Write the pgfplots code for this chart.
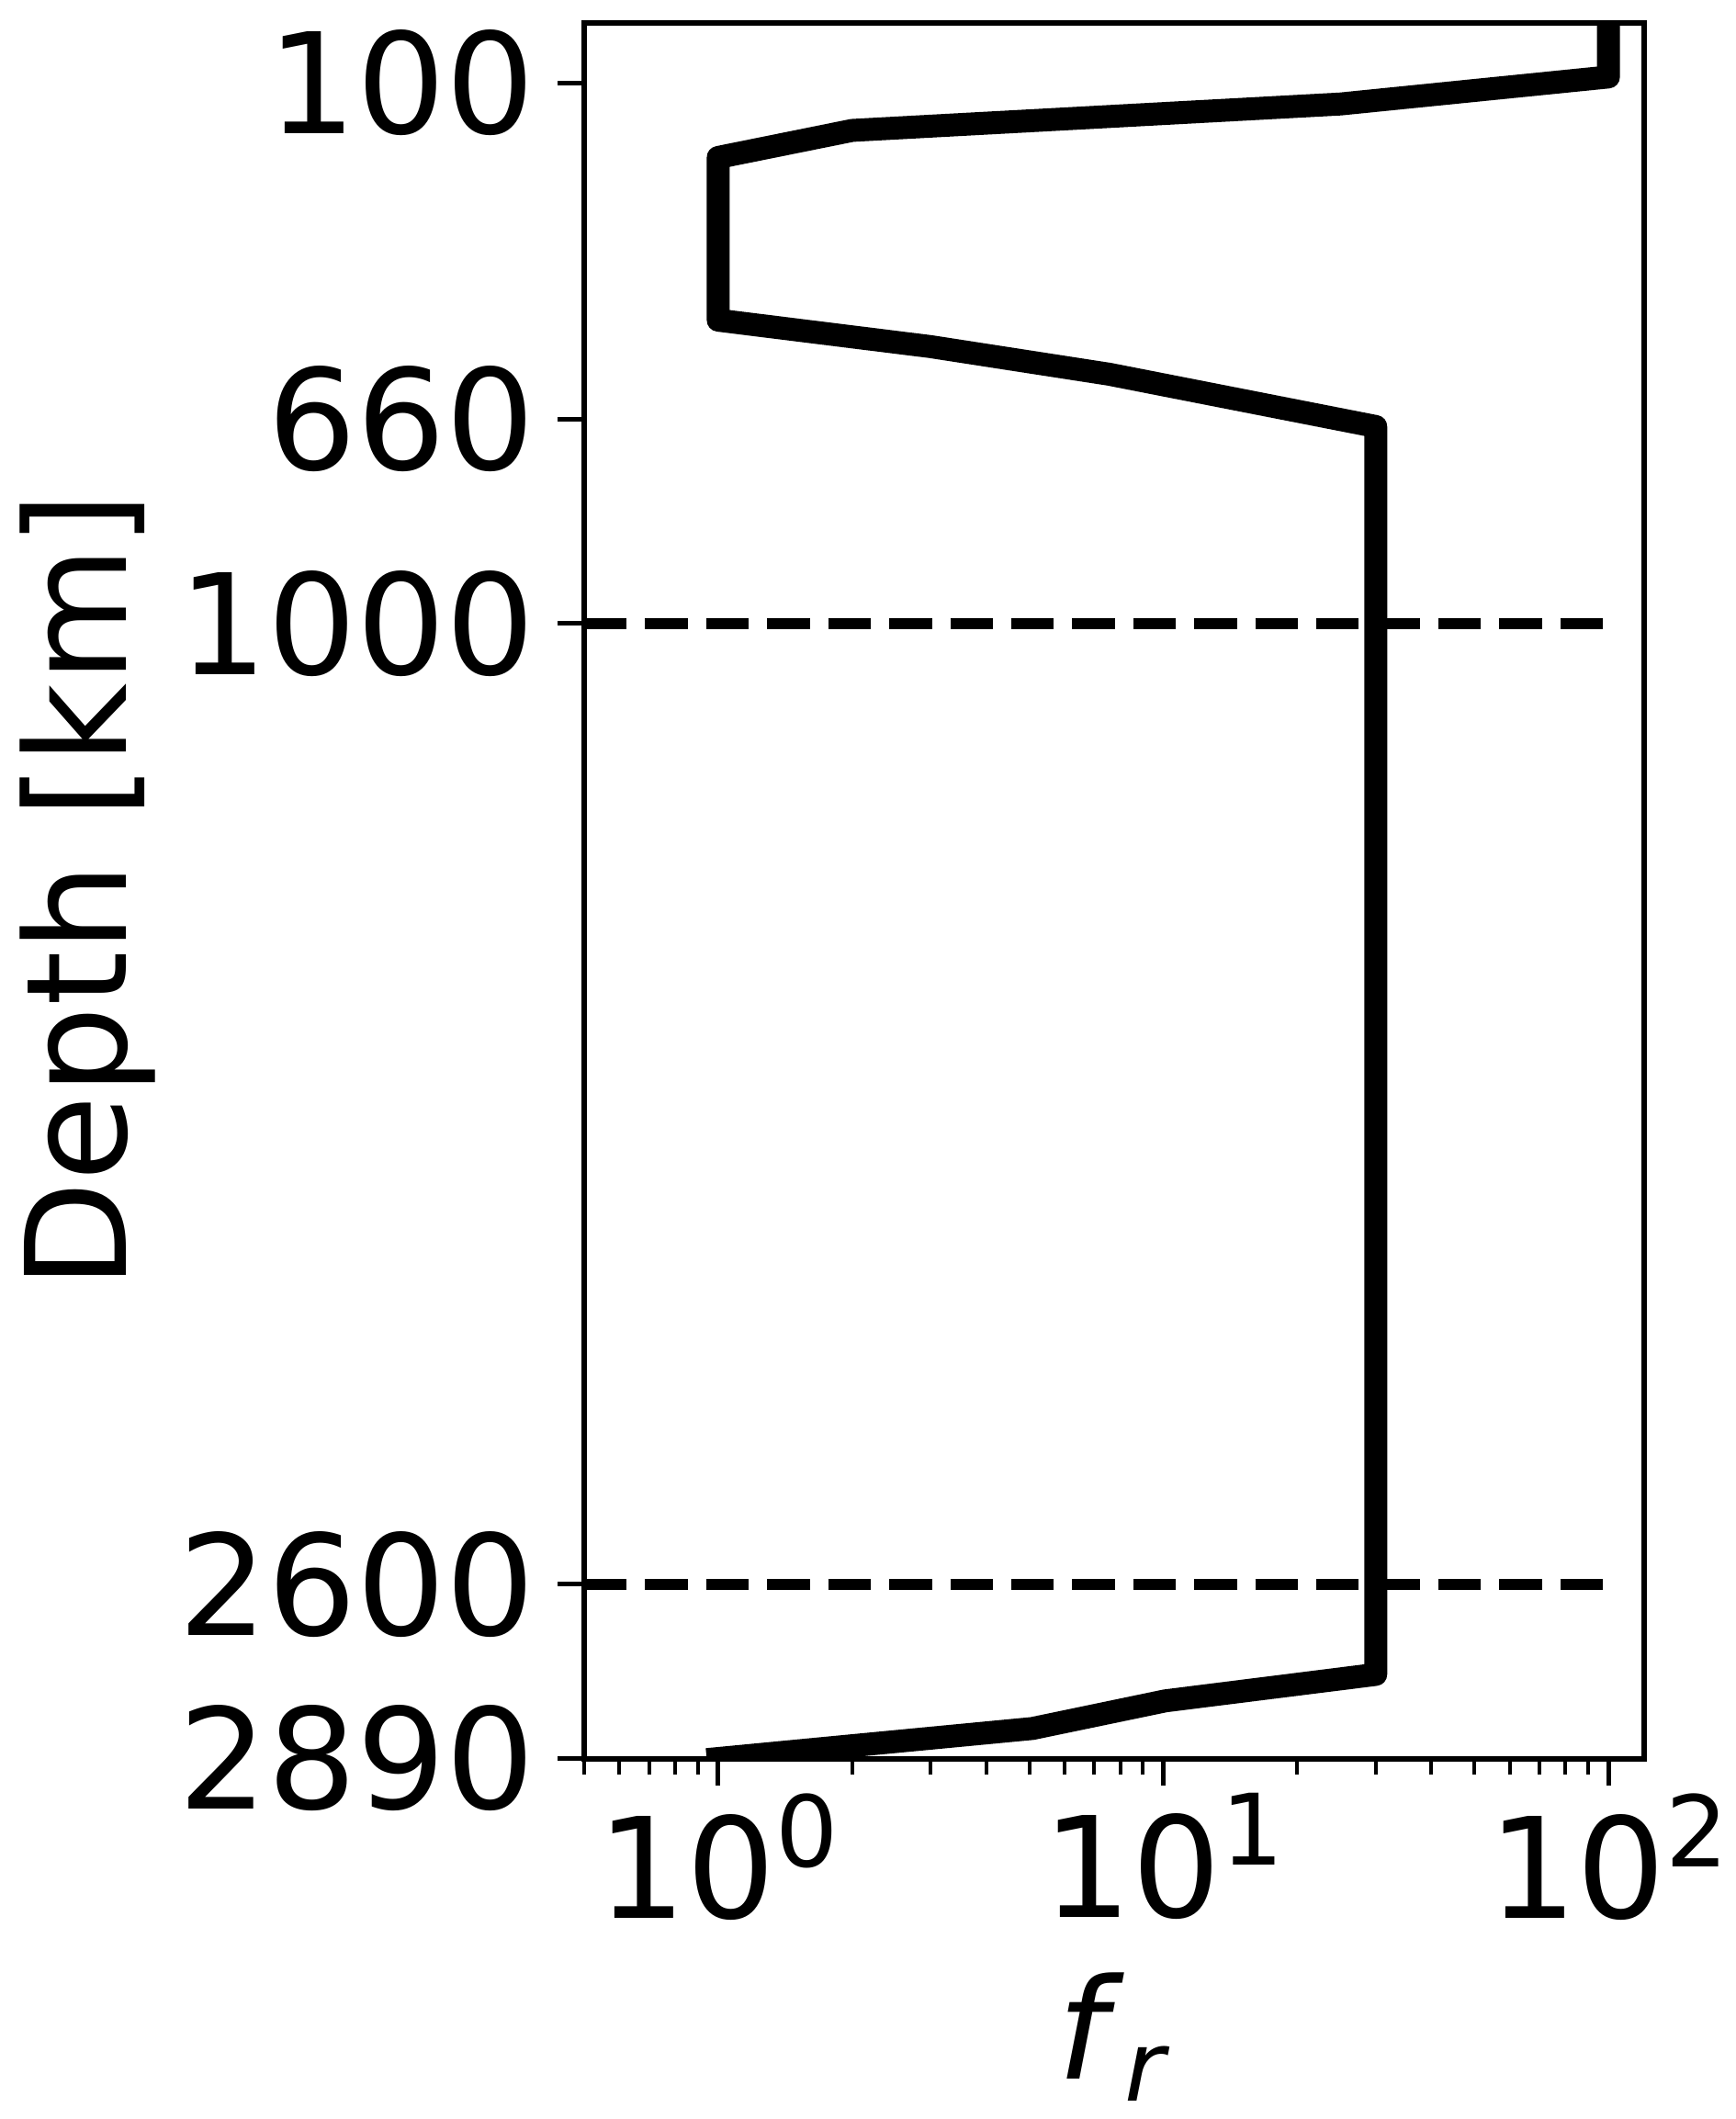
\documentclass[border=0pt]{standalone}
\usepackage{fontspec}
\setmainfont{DejaVu Sans}
\usepackage{pgfplots}
\pgfplotsset{compat=1.18}

% matplotlib-like mathtext exponent
\newcommand{\ex}[1]{\raisebox{0.37em}{\fontsize{21.5pt}{21.5pt}\selectfont #1}}
\newcommand{\bigfont}{\fontsize{30.5pt}{36pt}\selectfont}

\begin{document}
\begin{tikzpicture}
\begin{axis}[
  scale only axis,
  width=231pt, height=378.4pt,
  xmode=log, xmin=0.5, xmax=120,
  ymin=0, ymax=2890, y dir=reverse,
  xtick={1,10,100},
  xticklabels={10\ex{0},10\ex{1},10\ex{2}},
  minor xtick={0.5,0.6,0.7,0.8,0.9,2,3,4,5,6,7,8,9,20,30,40,50,60,70,80,90},
  ytick={100,660,1000,2600,2890},
  yticklabels={100,660,1000,2600,2890},
  minor ytick={},
  xtick pos=bottom, ytick pos=left,
  tick align=outside,
  major tick length=5.8pt, minor tick length=3.4pt,
  every major tick/.append style={line width=1pt, black},
  every minor tick/.append style={line width=0.8pt, black},
  axis line style={line width=1.2pt},
  tick label style={font=\bigfont, inner sep=0pt},
  xticklabel style={yshift=-1.6pt},
  yticklabel style={xshift=-4.8pt},
  xlabel={\textit{f}\raisebox{-4.8pt}{\fontsize{21.3pt}{21.3pt}\selectfont\textit{r}}},
  ylabel={Depth [km]},
  every axis x label/.style={at={([yshift=-69.8pt]axis description cs:0.5,0)}, anchor=base, font=\bigfont, inner sep=0pt},
  every axis y label/.style={at={([xshift=-99.8pt]axis description cs:0,0.5)}, rotate=90, anchor=base, font=\bigfont, inner sep=0pt},
]
\addplot[black, line width=5pt, line join=round, line cap=rect] coordinates {
  (100,0) (100,90) (25,135) (2,179) (1,224) (1,495) (3,539) (7.56,585)
  (30,672) (30,2750) (10.1,2794) (5.08,2840) (1,2890)
};
\addplot[black, line width=2.3pt, dash pattern=on 9.3pt off 4pt] coordinates {(0.5,1000) (100,1000)};
\addplot[black, line width=2.3pt, dash pattern=on 9.3pt off 4pt] coordinates {(0.5,2600) (100,2600)};
\end{axis}
\path ([shift={(-4.4pt,-4pt)}]current bounding box.south west) rectangle ([shift={(1.5pt,4.4pt)}]current bounding box.north east);
\end{tikzpicture}
\end{document}
